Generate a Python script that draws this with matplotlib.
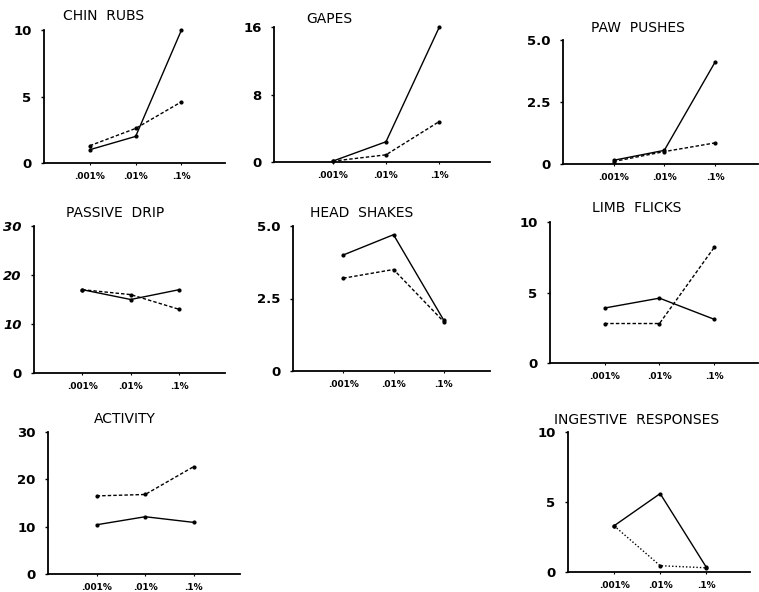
import matplotlib
matplotlib.use("Agg")
import matplotlib.pyplot as plt

# concentrations on the x axis
conc = [".001%", ".01%", ".1%"]

titles = ["CHIN  RUBS", "GAPES", "PAW  PUSHES", "PASSIVE  DRIP", "HEAD  SHAKES",
          "LIMB  FLICKS", "ACTIVITY", "INGESTIVE  RESPONSES"]

# solid line series
chin_solid = [1.0, 2.0, 10.0]
gapes_solid = [0.1, 2.4, 16.0]
paw_solid = [0.15, 0.55, 4.1]
drip_solid = [17.0, 15.0, 17.0]
head_solid = [4.0, 4.7, 1.75]
limb_solid = [3.9, 4.6, 3.1]
activity_solid = [10.4, 12.1, 10.9]
ingest_solid = [3.3, 5.6, 0.35]

# dashed line series
chin_dash = [1.3, 2.6, 4.6]
gapes_dash = [0.1, 0.85, 4.8]
paw_dash = [0.1, 0.5, 0.85]
drip_dash = [17.0, 16.0, 13.0]
head_dash = [3.2, 3.5, 1.7]
limb_dash = [2.8, 2.8, 8.2]
activity_dash = [16.5, 16.8, 22.7]
ingest_dash = [3.3, 0.45, 0.3]

yticks = [[0, 5, 10], [0, 8, 16], [0, 2.5, 5.0], [0, 10, 20, 30],
          [0, 2.5, 5.0], [0, 5, 10], [0, 10, 20, 30], [0, 5, 10]]
ytick_labels = [["0", "5", "10"], ["0", "8", "16"], ["0", "2.5", "5.0"],
                ["0", "10", "20", "30"], ["0", "2.5", "5.0"], ["0", "5", "10"],
                ["0", "10", "20", "30"], ["0", "5", "10"]]

solids = [chin_solid, gapes_solid, paw_solid, drip_solid, head_solid,
          limb_solid, activity_solid, ingest_solid]
dashes = [chin_dash, gapes_dash, paw_dash, drip_dash, head_dash,
          limb_dash, activity_dash, ingest_dash]

W, H = 759, 592
# axes boxes in pixels: left, right, top, bottom
boxes = [(44, 225, 30, 163), (274, 490, 27, 162), (563, 758, 40, 164),
         (34, 225, 226, 373), (293, 490, 226, 371), (550, 758, 222, 363),
         (48, 240, 432, 574), (568, 750, 432, 572)]
xlims = [(0, 3.95), (-0.1, 3.95), (0, 3.85), (0, 3.95), (0, 3.92),
         (0, 3.8), (0, 3.95), (0, 3.95)]
# title centres in pixels
title_pos = [(104, 16), (329, 19), (638, 28), (115, 213), (362, 213),
             (637, 208), (125, 419), (637, 420)]

fig = plt.figure(figsize=(W / 100, H / 100), dpi=100)

x = [1, 2, 3]
for i in range(8):
    l, r, t, b = boxes[i]
    ax = fig.add_axes([l / W, 1 - b / H, (r - l) / W, (b - t) / H])
    ax.plot(x, solids[i], color="black", lw=1.0, marker="o", ms=2, clip_on=False)
    ls = (0, (1, 1.5)) if i == 7 else (0, (2.5, 1.5))
    ax.plot(x, dashes[i], color="black", lw=1.0, ls=ls, marker="o", ms=2, clip_on=False)
    ax.set_xlim(*xlims[i])
    ax.set_ylim(yticks[i][0], yticks[i][-1])
    for s in ["top", "right"]:
        ax.spines[s].set_visible(False)
    ax.spines["left"].set_linewidth(1.3)
    ax.spines["bottom"].set_linewidth(1.3)
    ax.set_xticks(x)
    ax.set_xticklabels(conc, fontsize=6.5, fontweight="bold")
    ax.set_yticks(yticks[i])
    labs = ax.set_yticklabels(ytick_labels[i], fontsize=9.5, fontweight="bold")
    if i == 3:
        # passive drip labels are italic in the original, except the zero
        for lab in labs[1:]:
            lab.set_style("italic")
    ax.tick_params(axis="y", length=2, width=1, pad=7)
    ax.tick_params(axis="x", length=1.5, width=0.8, pad=5)
    fig.text(title_pos[i][0] / W, 1 - title_pos[i][1] / H, titles[i],
             ha="center", va="center", fontsize=10)

fig.savefig("out.png", dpi=100)
